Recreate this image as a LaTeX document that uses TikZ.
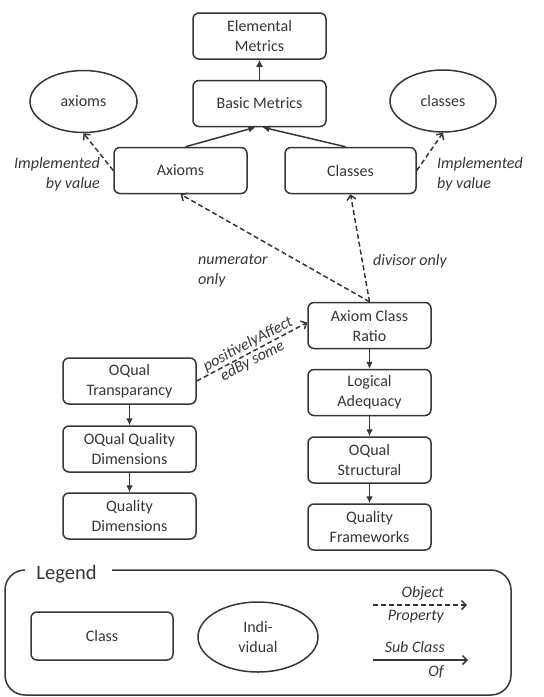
\documentclass[tikz,border=0pt]{standalone}
\usepackage{fontspec}
\setmainfont{Carlito}
\usetikzlibrary{shapes.geometric,arrows.meta}

\definecolor{inkgray}{HTML}{363636}

\tikzset{
  cls/.style={draw=inkgray, text=inkgray, line width=1.5pt, rounded corners=6pt,
    minimum width=133pt, minimum height=46pt, align=center, inner sep=0pt},
  indiv/.style={draw=inkgray, text=inkgray, line width=1.5pt, ellipse,
    minimum width=107pt, minimum height=62pt, align=center, inner sep=0pt},
  lbl/.style={text=inkgray, font=\fontsize{16}{20}\selectfont\itshape, inner sep=1pt},
  subof/.style={draw=inkgray, line width=1.5pt, -{Latex[length=7pt,width=7pt]}},
  objprop/.style={draw=inkgray, line width=1.5pt, dash pattern=on 5pt off 3pt,
    -{Straight Barb[length=4.5pt,width=9pt]}}
}

\begin{document}
\begin{tikzpicture}[x=1pt, y=-1pt, font=\fontsize{16}{20}\selectfont]
        % page frame
        \useasboundingbox (0,0) rectangle (544,697);

        % metric classes
        \node[cls] (elem) at (259.5,36) {Elemental\\Metrics};
        \node[cls] (basic) at (259.5,103.5) {Basic Metrics};
        \node[cls] (axiomsC) at (180.5,170.5) {Axioms};
        \node[cls, minimum width=131pt] (classesC) at (350.5,170.5) {Classes};

        % individuals
        \node[indiv] (axiomsI) at (83.5,101.5) {axioms};
        \node[indiv, minimum width=106pt] (classesI) at (443,101) {classes};

        % ratio and quality chain
        \node[cls, minimum width=123pt] (acr) at (369.5,325.5) {Axiom Class\\Ratio};
        \node[cls, minimum width=123pt] (logad) at (369.5,392.5) {Logical\\Adequacy};
        \node[cls, minimum width=123pt] (oqstr) at (369.5,460) {OQual\\Structural};
        \node[cls, minimum width=123pt] (qfw) at (369.5,527) {Quality\\Frameworks};

        \node[cls] (oqtr) at (129.5,381) {OQual\\Transparancy};
        \node[cls] (oqqd) at (129.5,449) {OQual Quality\\Dimensions};
        \node[cls] (qdim) at (129.5,516) {Quality\\Dimensions};

        % sub class of
        \draw[subof] (basic) -- (elem);
        \draw[subof] ([xshift=5pt]axiomsC.north) -- ([xshift=-4pt]basic.south);
        \draw[subof] ([xshift=-5pt]classesC.north) -- ([xshift=3pt]basic.south);
        \draw[subof] (acr) -- (logad);
        \draw[subof] (logad) -- (oqstr);
        \draw[subof] (oqstr) -- (qfw);
        \draw[subof] (oqtr) -- (oqqd);
        \draw[subof] (oqqd) -- (qdim);

        % object properties
        \draw[objprop] (axiomsC.west) -- (axiomsI.south);
        \draw[objprop] (classesC.east) -- (classesI.south);
        \draw[objprop] (acr.north) -- (axiomsC.south);
        \draw[objprop] (acr.north) -- (classesC.south);
        \draw[objprop] (oqtr.east) -- ([yshift=3pt]acr.west)
            node[lbl, midway, sloped, above, xshift=0pt, inner sep=1pt] (pa1) {positivelyAffect}
            node[lbl, midway, sloped, below, xshift=-4pt, inner sep=1pt] (pa2) {edBy some};

        % property labels
        \node[lbl, align=right, anchor=east] (implL) at (101,174) {Implemented\\by value};
        \node[lbl, align=left, anchor=west] (implR) at (436,174) {Implemented\\by value};
        \node[lbl, align=left, anchor=west] (numer) at (197,271) {numerator\\only};
        \node[lbl, anchor=west] (divis) at (372,261) {divisor only};

        % legend frame
        \draw[inkgray, line width=1.5pt, rounded corners=20pt]
            (112,570) -- (511,570) -- (511,695) -- (5,695) -- (5,570) -- (25,570);
        \node[text=inkgray, font=\fontsize{20.5}{24}\selectfont] (legend) at (66.5,574) {Legend};

        % legend items
        \node[cls, minimum width=142pt, minimum height=48pt] (lgClass) at (102,636) {Class};
        \node[indiv, minimum width=120pt, minimum height=70pt] (lgIndiv) at (258,637) {Indi-\\vidual};

        \coordinate (opS) at (373,605);
        \coordinate (opE) at (467,605);
        \draw[objprop] (opS) -- (opE);
        \node[lbl, anchor=east] (opT) at (445,593) {Object};
        \node[lbl, anchor=east] (opB) at (445,617) {Property};

        \coordinate (scS) at (373,660);
        \coordinate (scE) at (468,660);
        \draw[draw=inkgray, line width=1.5pt, -{Straight Barb[length=4.5pt,width=9pt]}] (scS) -- (scE);
        \node[lbl, anchor=east] (scT) at (446,647) {Sub Class};
        \node[lbl, anchor=east] (scB) at (445,672) {Of};
\end{tikzpicture}
\end{document}
